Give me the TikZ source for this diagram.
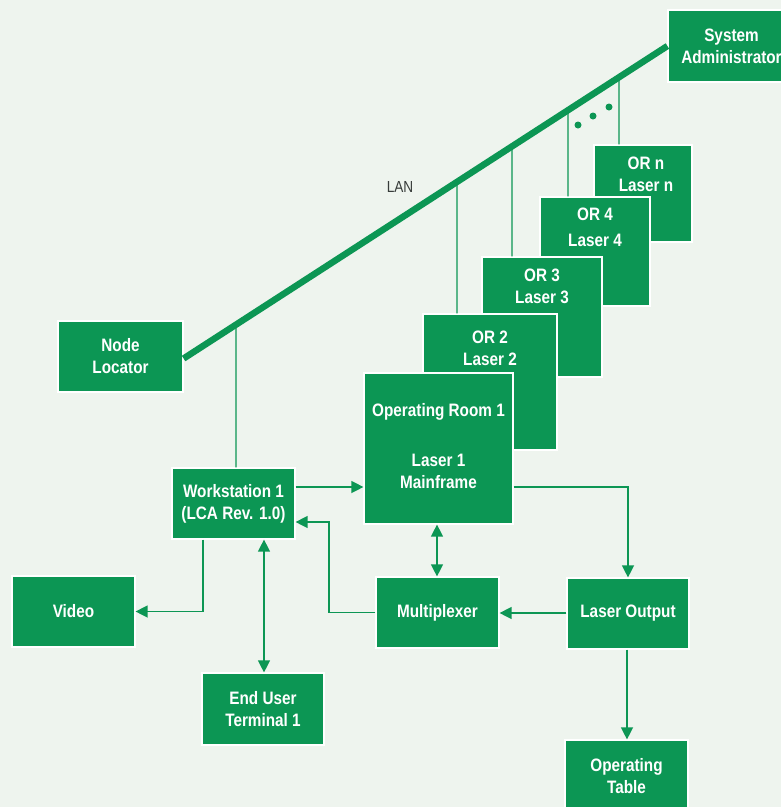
\documentclass[tikz,border=0pt]{standalone}
\usepackage{fontspec}
\newfontfamily\lab{Liberation Sans}[FakeStretch=0.85]
\usetikzlibrary{arrows.meta,calc}
\definecolor{grn}{RGB}{12,150,84}
\definecolor{bg}{RGB}{238,244,238}
\definecolor{ink}{RGB}{55,60,58}
\begin{document}
\begin{tikzpicture}[x=1pt,y=-1pt,
  box/.style={fill=grn, draw=white, line width=1.2pt, text=white, inner sep=0pt,
    font=\lab\bfseries\fontsize{18}{22}\selectfont, align=center},
  txt/.style={text=white, inner sep=0pt, font=\lab\bfseries\fontsize{18}{22}\selectfont, align=center},
  conn/.style={draw=grn, line width=1.3pt},
  arr/.style={conn, -{Triangle[length=12pt,width=12pt]}},
  darr/.style={conn, {Triangle[length=12pt,width=12pt]}-{Triangle[length=12pt,width=12pt]}},
  dot/.style={circle, fill=grn, inner sep=0pt, minimum size=7pt}]
\clip (0,0) rectangle (781,807);
\fill[bg] (0,0) rectangle (781,807);

% boxes not stacked
\node[box, minimum width=127pt, minimum height=72pt] (sa) at (731.5,46) {System\\Administrator};
\node[box, minimum width=125pt, minimum height=71pt] (nl) at (120.5,356.5) {Node\\Locator};

% LAN
\draw[grn, line width=6.5pt] ($(nl.east)+(0,2)$) -- (sa.west);
\coordinate (lanA) at ($(nl.east)+(0,2)$);
\coordinate (lanB) at (sa.west);
\node[text=ink, inner sep=0pt, font=\lab\fontsize{16}{18}\selectfont] (lan) at (400,187) {LAN};

% stacked OR boxes (back to front)
\node[box, minimum width=98pt, minimum height=97pt] (orn) at (643,193.5) {};
\node[box, minimum width=110pt, minimum height=109pt] (or4) at (595,251.5) {};
\node[box, minimum width=120pt, minimum height=120pt] (or3) at (542,317) {};
\node[box, minimum width=134pt, minimum height=136pt] (or2) at (490,382) {};
\node[box, minimum width=149pt, minimum height=151pt] (or1) at (438.5,448.5) {};

\node[txt] (ornt) at (646,174) {OR n\\Laser n};
\node[txt, font=\lab\bfseries\fontsize{18}{26}\selectfont] (or4t) at (595,227) {OR 4\\Laser 4};
\node[txt] (or3t) at (542,286) {OR 3\\Laser 3};
\node[txt] (or2t) at (490,348) {OR 2\\Laser 2};
\node[txt] (or1a) at (438.5,412) {Operating Room 1};
\node[txt] (or1b) at (438.5,471) {Laser 1\\Mainframe};

% other boxes
\node[box, minimum width=123pt, minimum height=71pt] (ws) at (233.5,503.5) {Workstation 1\\(LCA Rev. 1.0)};
\node[box, minimum width=123pt, minimum height=71pt] (vid) at (73.5,611.5) {Video};
\node[box, minimum width=122pt, minimum height=72pt] (eut) at (263,709) {End User\\Terminal 1};
\node[box, minimum width=123pt, minimum height=71pt] (mux) at (437.5,612.5) {Multiplexer};
\node[box, minimum width=122pt, minimum height=71pt] (lo) at (628,613.5) {Laser Output};
\node[box, minimum width=123pt, minimum height=72pt, text depth=0pt] (ot) at (626.5,776) {Operating\\Table};

% LAN drops
\draw[conn] (intersection of lanA--lanB and {236,0}--{236,800}) -- (ws.north -| 236,0);
\draw[conn] (intersection of lanA--lanB and {457,0}--{457,800}) -- (or2.north -| 457,0);
\draw[conn] (intersection of lanA--lanB and {512,0}--{512,800}) -- (or3.north -| 512,0);
\draw[conn] (intersection of lanA--lanB and {568,0}--{568,800}) -- (or4.north -| 568,0);
\draw[conn] (intersection of lanA--lanB and {619,0}--{619,800}) -- (orn.north -| 619,0);

\node[dot] (d1) at (578,125) {};
\node[dot] (d2) at (593,116) {};
\node[dot] (d3) at (609,107) {};

% connectors
\draw[arr] (ws.east |- 0,487) -- (or1.west |- 0,487);
\draw[arr] (mux.west) -- (329,612.5) -- (329,522) -- (ws.east |- 0,522);
\draw[arr] (ws.south -| 203,0) -- (203,611.5) -- (vid.east);
\draw[darr] (ws.south -| 264,0) -- (eut.north -| 264,0);
\draw[darr] (or1.south -| 437,0) -- (mux.north -| 437,0);
\draw[arr] (or1.east |- 0,487) -- (628,487) -- (lo.north);
\draw[arr] (lo.west |- 0,613) -- (mux.east |- 0,613);
\draw[arr] (lo.south -| 627,0) -- (ot.north -| 627,0);
\end{tikzpicture}
\end{document}
